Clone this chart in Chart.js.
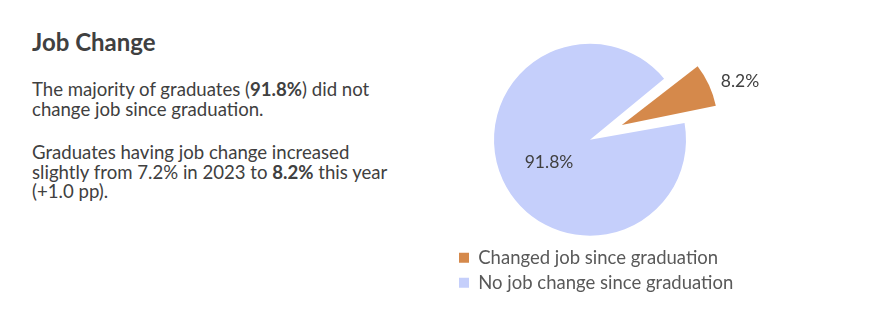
<!DOCTYPE html>
<html>
<head>
<meta charset="utf-8">
<script src="https://cdn.jsdelivr.net/npm/chart.js@4"></script>
<style>
  html, body { margin: 0; padding: 0; background: #fff; }
  body { width: 874px; height: 330px; position: relative; overflow: hidden; font-family: Lato, "Noto Sans", sans-serif; color: #404040; }
  #title { position: absolute; left: 32px; top: 27px; font-size: 24px; font-weight: bold; margin: 0; }
  .para { position: absolute; left: 32px; font-size: 18.6px; line-height: 19.7px; margin: 0; width: 400px; }
  #p1 { top: 80px; }
  #p2 { top: 143px; }
  #wrap { position: absolute; left: 440px; top: 0; width: 360px; height: 302px; }
</style>
</head>
<body>
<h1 id="title">Job Change</h1>
<p class="para" id="p1">The majority of graduates (<b>91.8%</b>) did not<br>change job since graduation.</p>
<p class="para" id="p2">Graduates having job change increased<br>slightly from 7.2% in 2023 to <b>8.2%</b> this year<br>(+1.0 pp).</p>
<div id="wrap"><canvas id="jobChangeChart"></canvas></div>
<script>
// data
const categories = ['Changed job since graduation', 'No job change since graduation'];
const shares = [8.2, 91.8];
const sliceColors = ['#D5894B', '#C5CFFB'];
const explode = [140, 0]; // Chart.js moves a slice by offset/4
const pieRadius = 96;

// empty box on the right so the pie sits left of centre while the legend keeps full width
const rightSpacer = {
    id: 'rightSpacer',
    beforeInit(chart) {
        Chart.layouts.addBox(chart, {
            position: 'right',
            weight: 0,
            fullSize: false,
            options: {},
            width: 0, height: 0, top: 0, left: 0, right: 0, bottom: 0,
            isHorizontal() { return false; },
            update(maxWidth, maxHeight) { this.width = 72.5; this.height = maxHeight; },
            draw() {}
        });
    }
};

// keep exploded slices the same radius as the rest
const keepRadius = {
    id: 'keepRadius',
    afterDatasetUpdate(chart, args) {
        args.meta.data.forEach((arc, i) => {
            const off = (explode[i] || 0) / 4;
            if (!off) return;
            const circ = arc.endAngle - arc.startAngle;
            const fix = 1 - Math.sin(Math.min(Math.PI, circ));
            arc.outerRadius = arc.outerRadius - off * fix;
        });
    }
};

// percentage labels: inside for the big slice, outside for the small one
const sliceLabels = {
    id: 'sliceLabels',
    afterDatasetsDraw(chart) {
        const ctx = chart.ctx;
        const meta = chart.getDatasetMeta(0);
        ctx.save();
        ctx.font = '17.5px Lato, "Noto Sans", sans-serif';
        ctx.fillStyle = '#404040';
        ctx.textBaseline = 'middle';
        meta.data.forEach((arc, i) => {
            const mid = (arc.startAngle + arc.endAngle) / 2;
            const off = (explode[i] || 0) / 4;
            const cx = arc.x + Math.cos(mid) * off;
            const cy = arc.y + Math.sin(mid) * off;
            const outside = i === 0;
            const r = outside ? pieRadius + 13 : pieRadius * 0.47;
            ctx.textAlign = outside ? 'left' : 'center';
            ctx.fillText(shares[i].toFixed(1) + '%', cx + Math.cos(mid) * r, cy + Math.sin(mid) * r + (outside ? 2 : 4));
        });
        ctx.restore();
    }
};

const ctx = document.getElementById('jobChangeChart').getContext('2d');
new Chart(ctx, {
    type: 'pie',
    data: {
        labels: categories,
        datasets: [{
            data: shares,
            backgroundColor: sliceColors,
            borderWidth: 0,
            offset: explode
        }]
    },
    options: {
        responsive: true,
        maintainAspectRatio: false,
        animation: false,
        rotation: 50.5,
        radius: pieRadius,
        layout: { padding: { left: 12.5, right: 0, top: 37.5, bottom: 0 } },
        plugins: {
            legend: {
                position: 'bottom',
                align: 'start',
                labels: {
                    boxWidth: 10,
                    boxHeight: 10,
                    padding: 6.5,
                    color: '#595959',
                    font: { family: 'Lato, "Noto Sans", sans-serif', size: 18.5 }
                }
            },
            tooltip: { enabled: false }
        }
    },
    plugins: [rightSpacer, keepRadius, sliceLabels]
});
</script>
</body>
</html>
